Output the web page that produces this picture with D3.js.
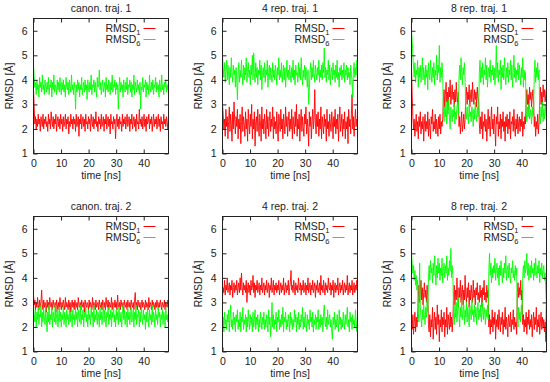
<!DOCTYPE html>
<html>
<head>
<meta charset="utf-8">
<script src="https://cdn.jsdelivr.net/npm/d3@7"></script>
<style>
body { margin: 0; background: #fff; }
svg text { font-family: "Liberation Sans", Arial, sans-serif; fill: #222; }
</style>
</head>
<body>
<svg id="chart" width="550" height="382"></svg>
<script>
// RMSD time series, 200 samples over 0..49 ns
var canon1_r = [3.6,2.9,2.2,2.5,2.0,2.4,2.1,2.6,2.2,2.4,1.9,2.5,2.3,2.1,2.6,2.0,2.4,2.2,2.5,2.1,
 2.3,1.9,2.6,2.2,2.4,2.0,2.7,2.3,2.1,2.5,2.0,2.4,2.2,2.6,1.9,2.3,2.5,2.1,2.4,2.0,
 2.6,2.2,2.4,1.9,2.5,2.1,2.3,2.6,2.0,2.4,2.2,2.5,1.8,2.3,2.1,2.6,2.2,2.4,2.0,2.5,
 2.2,2.4,1.9,2.6,2.1,2.3,2.5,1.7,2.4,2.2,2.6,2.0,2.3,2.5,2.1,2.4,1.9,2.6,2.2,2.3,
 2.0,2.5,2.2,2.4,1.9,2.6,2.3,2.1,2.5,2.0,2.4,2.2,2.7,2.1,2.3,1.9,2.5,2.2,2.4,2.0,
 2.6,2.1,2.3,2.5,1.9,2.4,2.2,2.6,2.0,2.3,2.5,2.1,2.4,1.8,2.6,2.2,2.3,2.0,2.5,2.2,
 2.4,1.6,2.3,2.6,2.1,2.4,2.0,2.5,2.2,2.3,1.9,2.6,2.1,2.4,2.2,2.5,2.0,2.3,2.6,2.1,
 2.3,2.5,1.9,2.4,2.2,2.6,2.0,2.3,2.5,2.1,2.4,1.9,2.6,2.2,2.3,2.0,2.8,2.2,2.4,2.1,
 2.5,2.0,2.3,2.6,2.1,2.4,1.9,2.5,2.2,2.3,2.6,2.0,2.4,2.2,2.5,1.9,2.3,2.6,2.1,2.4,
 2.2,2.5,2.0,2.3,2.6,2.1,2.4,1.9,2.5,2.2,2.3,2.0,2.6,2.2,2.4,2.1,2.5,2.3,2.0,2.4];
var canon1_g = [4.6,4.1,3.7,3.9,3.4,4.0,3.6,3.8,3.3,4.1,3.7,3.9,3.5,4.2,3.6,3.8,3.4,4.0,3.7,3.5,
 3.9,3.6,4.1,3.4,3.8,3.7,4.0,3.3,3.9,3.6,4.2,3.5,3.8,3.7,3.4,4.0,3.6,3.9,3.5,4.1,
 3.7,3.4,3.9,3.6,4.0,3.5,3.8,3.3,4.1,3.7,3.6,3.9,3.4,4.0,3.7,3.5,4.2,3.6,3.8,3.4,
 3.9,3.7,2.8,3.8,3.5,4.0,3.6,3.9,3.3,3.8,3.6,4.1,3.4,3.7,3.9,3.5,4.0,3.6,3.8,3.2,
 4.0,3.7,3.5,3.9,3.6,4.2,3.4,3.8,3.7,4.0,3.5,3.9,3.6,3.3,4.1,3.7,3.8,4.4,3.6,3.9,
 3.4,3.8,4.0,3.5,3.7,3.9,3.3,4.1,3.6,3.8,3.5,4.0,3.7,3.4,3.9,3.6,4.2,3.5,3.8,3.7,
 4.0,3.4,3.9,3.6,3.8,2.8,3.7,4.1,3.5,3.9,3.6,3.8,3.3,4.0,3.7,3.5,3.9,3.6,4.1,3.4,
 3.8,3.7,4.0,3.5,3.9,3.3,3.8,3.6,4.2,3.4,3.9,3.7,3.5,4.0,3.6,3.8,3.4,3.9,2.8,3.7,
 3.6,4.1,3.5,3.8,3.7,4.0,3.3,3.9,3.6,3.8,3.4,4.2,3.7,3.5,3.9,3.6,4.0,3.4,3.8,3.7,
 4.1,3.5,3.9,3.6,3.8,3.3,4.0,3.7,3.5,4.2,3.6,3.8,3.4,3.9,3.7,4.0,3.5,3.8,3.6,3.9];

var rep4a_r = [3.0,2.6,2.0,2.4,1.7,2.8,2.1,2.5,1.6,2.3,2.9,1.9,2.6,2.2,1.5,2.7,2.0,3.1,2.3,1.8,
 2.5,2.1,2.8,1.6,2.4,2.0,2.6,1.4,2.3,2.9,1.9,2.5,2.2,1.7,2.7,2.0,2.4,1.5,2.8,2.2,
 1.8,2.6,2.1,3.0,1.6,2.4,2.0,2.7,1.3,2.3,2.5,1.9,2.8,2.1,1.7,2.6,2.2,1.5,2.9,2.0,
 2.4,1.8,2.6,2.2,1.6,2.8,2.0,2.5,1.7,2.3,2.7,1.9,2.4,2.1,2.9,1.6,2.5,2.0,2.3,1.8,
 2.7,2.1,1.5,2.6,2.3,1.9,2.8,2.0,2.4,1.6,2.6,2.2,1.8,2.9,2.1,2.5,1.7,2.3,2.7,1.9,
 2.4,2.0,2.8,1.6,2.5,2.2,1.8,2.7,2.1,3.0,1.7,2.4,2.0,2.6,1.5,2.3,2.8,1.9,2.5,2.1,
 1.7,2.6,2.2,2.9,1.8,2.4,2.0,1.3,2.7,2.1,2.5,1.6,2.3,2.8,2.0,2.4,3.6,2.2,1.8,2.6,
 2.1,2.7,1.7,2.4,2.0,2.9,1.6,2.5,2.2,1.8,2.6,2.1,2.4,1.5,2.8,2.0,2.3,1.7,2.6,2.2,
 1.9,2.7,2.3,1.6,2.5,2.1,2.8,1.8,2.4,2.0,2.6,1.5,2.3,2.9,1.9,2.2,2.6,1.7,2.4,2.0,
 2.7,1.6,2.3,2.0,2.5,1.4,2.8,2.1,2.4,1.8,2.6,3.4,2.0,2.5,1.7,2.3,2.8,2.1,2.4,2.2];
var rep4a_g = [5.0,4.5,4.1,4.7,3.9,4.4,4.8,4.0,4.6,4.2,3.8,4.5,4.1,4.9,4.3,3.9,4.6,4.2,4.4,3.7,
 4.5,4.0,3.2,4.3,4.7,3.9,4.4,4.1,4.8,4.2,3.8,4.6,4.0,4.5,4.2,4.9,3.9,4.3,4.7,4.1,
 4.4,3.8,4.6,4.2,5.0,4.0,5.1,4.3,3.9,4.7,4.1,4.5,3.8,4.4,4.2,4.8,4.0,4.6,3.6,4.3,
 4.5,4.1,4.7,3.9,4.4,4.2,4.8,3.7,4.3,4.6,4.0,4.5,4.2,3.9,4.7,4.1,4.4,4.0,4.6,4.3,
 3.8,4.5,4.2,4.9,4.0,4.4,4.1,4.7,3.9,4.3,4.6,4.0,4.5,3.7,4.2,4.8,4.1,4.4,4.0,4.6,
 4.2,3.9,4.5,4.1,4.8,4.0,4.4,3.8,4.6,4.2,4.3,3.9,4.7,4.1,4.5,4.0,4.9,4.2,3.8,4.4,
 4.1,4.6,4.0,4.5,4.2,3.7,4.4,3.0,3.6,4.3,4.7,4.0,4.5,4.1,4.8,4.2,3.9,4.6,4.3,4.0,
 4.5,4.2,4.8,3.9,4.4,4.1,4.6,4.0,4.7,4.3,5.3,4.1,4.5,3.9,4.4,4.2,4.8,4.0,4.6,3.8,
 4.3,4.5,4.0,4.7,4.2,4.4,3.9,4.6,4.1,4.8,4.0,4.3,3.7,4.5,4.2,4.6,4.0,4.4,4.1,4.7,
 3.9,4.4,4.2,4.6,4.0,4.5,4.1,4.3,3.8,4.6,4.2,4.0,3.3,4.4,4.7,4.1,4.5,4.2,4.8,4.3];

var rep8a_r = [4.5,3.4,2.5,2.0,2.4,1.7,2.2,2.6,1.9,2.3,1.6,2.5,2.1,2.7,1.8,2.3,2.0,2.5,1.5,2.2,
 2.6,1.9,2.3,2.0,2.7,1.7,2.4,2.1,1.6,2.5,2.2,2.8,1.9,2.3,2.0,2.6,1.8,2.4,2.1,1.7,
 2.5,2.0,2.6,1.8,2.3,2.1,2.4,3.2,3.6,2.9,3.4,3.9,3.1,3.5,2.8,3.7,3.3,4.0,3.0,3.4,
 3.8,3.2,3.5,2.9,3.6,3.1,3.9,3.3,3.0,3.5,2.1,2.5,1.8,2.3,2.7,1.9,2.2,2.6,2.0,2.4,
 3.3,3.7,3.0,3.5,3.2,3.8,2.9,3.4,3.6,3.1,3.9,3.3,3.0,3.6,3.2,3.5,2.9,3.7,3.3,3.1,
 2.2,1.8,2.5,2.0,2.7,1.6,2.3,2.1,2.6,1.9,2.4,1.5,2.2,2.8,2.0,2.5,1.7,2.3,2.9,2.0,
 2.4,1.8,2.6,2.1,1.3,2.5,2.2,2.9,1.7,2.3,2.0,2.6,1.6,2.4,2.1,2.7,1.9,2.3,1.5,2.5,
 2.1,2.6,1.8,2.4,2.0,2.7,1.6,2.3,2.2,2.5,1.9,2.8,2.1,1.7,2.4,2.0,2.6,1.8,2.3,2.5,
 1.9,2.4,2.1,2.7,1.7,2.3,2.0,2.5,2.2,3.1,3.6,3.0,3.4,2.8,3.7,3.2,3.5,2.9,3.3,3.6,
 3.1,2.1,2.5,1.7,2.3,2.0,2.6,1.8,2.2,3.2,3.7,3.0,3.5,2.9,3.8,3.3,3.6,3.1,3.4,3.7];
var rep8a_g = [6.0,5.6,5.0,4.5,4.1,4.7,3.9,4.4,4.2,4.8,3.7,4.5,4.1,4.6,3.9,4.3,4.9,4.0,4.5,4.2,
 3.8,4.6,4.1,4.4,3.6,4.7,4.2,4.0,4.8,4.3,3.9,4.5,4.1,4.7,3.8,4.4,4.2,5.0,4.0,4.6,
 4.3,5.4,3.9,4.5,4.1,4.7,4.2,2.7,2.3,2.9,2.5,3.1,2.2,2.8,2.6,3.2,2.4,2.0,2.9,2.6,
 2.3,2.8,2.5,3.0,2.2,2.7,2.4,2.9,3.1,2.6,4.1,4.6,4.0,4.9,4.3,3.8,4.5,4.2,4.7,4.0,
 2.8,2.4,2.9,2.6,2.2,3.0,2.5,2.7,2.3,2.9,2.6,2.1,2.8,2.4,3.1,2.6,2.3,2.9,2.5,2.7,
 4.3,4.8,3.9,4.5,4.1,4.7,3.8,4.4,4.2,4.9,4.0,4.6,3.7,4.3,4.5,4.1,4.8,3.9,4.4,4.2,
 4.6,4.0,4.5,3.8,4.3,5.4,4.1,4.7,3.9,4.4,4.2,4.8,3.6,4.5,4.1,4.6,4.0,4.9,4.3,3.8,
 4.5,4.1,4.7,3.9,4.4,4.2,4.8,4.0,4.6,3.7,4.3,5.0,4.1,4.5,3.9,4.4,4.2,4.7,4.0,4.6,
 4.2,3.8,4.5,4.1,4.9,3.7,4.4,4.0,4.3,2.7,2.3,2.9,2.5,3.0,2.4,2.8,2.6,2.2,2.9,2.5,
 2.8,4.3,4.8,3.9,4.5,4.1,4.7,4.0,4.4,2.7,2.2,2.9,2.5,3.1,2.3,2.8,2.4,3.0,2.6,2.5];

var canon2_r = [3.3,2.9,3.1,2.7,3.0,2.8,3.2,2.9,2.7,3.1,2.8,3.0,3.5,2.9,2.7,3.1,2.8,3.0,2.9,2.6,
 3.1,2.8,3.0,2.7,3.2,2.9,2.8,3.0,2.7,3.1,2.9,2.8,3.0,2.6,3.1,2.9,2.7,3.0,2.8,3.2,
 2.9,2.7,3.0,2.8,3.1,2.9,2.7,3.2,2.8,3.0,2.9,2.7,3.1,2.8,3.0,2.6,2.9,3.1,2.8,3.0,
 2.7,3.1,2.9,2.8,3.0,2.7,3.2,2.9,2.8,3.0,2.7,3.1,2.9,2.8,3.0,2.6,3.1,2.9,2.8,3.0,
 2.9,2.7,3.1,2.8,3.0,2.9,2.7,3.2,2.8,3.0,2.9,2.7,3.1,2.8,2.9,3.0,2.7,3.1,2.9,2.8,
 3.0,2.7,3.1,2.9,2.8,3.0,2.7,3.2,2.9,2.8,3.1,2.7,3.0,2.9,2.8,3.2,2.7,3.0,2.9,2.8,
 3.1,2.8,3.0,2.7,3.3,2.9,2.8,3.0,2.7,3.1,2.9,2.8,3.0,2.6,3.1,2.9,2.8,3.0,2.7,3.1,
 2.9,2.8,3.0,2.7,3.1,2.9,2.8,3.0,2.7,3.1,3.4,2.8,3.0,2.7,3.1,2.9,2.8,3.0,2.7,2.9,
 3.1,2.8,3.0,2.9,2.7,3.1,2.8,3.0,2.9,2.7,3.2,2.8,3.0,2.9,2.7,3.1,2.8,3.0,2.9,2.7,
 3.0,2.8,3.1,2.9,2.7,3.0,2.8,3.1,2.9,2.7,3.0,2.9,2.8,3.1,2.7,3.0,2.9,2.8,3.1,3.0];
var canon2_g = [2.9,2.5,2.2,2.7,2.0,2.6,2.3,2.8,2.1,2.5,2.4,2.9,2.0,2.6,2.2,2.7,2.4,2.1,2.8,2.3,
 1.8,2.6,2.2,2.9,2.1,2.5,2.3,2.8,2.0,2.6,2.4,2.2,2.9,2.1,2.5,2.7,2.0,2.4,2.8,2.2,
 2.6,2.0,2.5,2.3,2.9,2.1,2.6,2.4,2.0,2.7,2.3,2.5,2.1,2.8,2.2,2.6,2.4,2.0,2.7,2.3,
 2.5,2.1,2.8,2.3,2.6,2.0,2.7,2.4,2.2,2.9,2.1,2.5,2.3,2.7,2.0,2.6,2.4,2.8,2.2,2.5,
 2.0,2.7,2.3,2.5,2.1,2.8,2.4,2.6,2.0,2.9,2.2,2.5,2.3,2.7,2.1,2.6,2.4,2.0,2.8,2.3,
 2.6,2.1,2.5,2.9,2.2,2.7,2.3,2.0,2.6,2.4,2.8,2.1,2.5,2.3,2.7,2.0,2.6,2.4,2.9,2.2,
 2.5,2.0,2.7,2.3,2.6,2.1,2.8,2.4,2.2,2.6,2.0,2.5,2.9,2.3,2.7,2.1,2.4,2.6,2.0,2.8,
 2.3,2.6,2.1,2.5,2.8,2.2,2.4,2.7,2.0,2.6,2.3,2.9,2.1,2.5,2.4,2.7,2.0,2.6,2.2,2.8,
 2.4,2.1,2.7,2.3,2.5,1.9,2.6,2.2,2.8,2.4,2.0,2.7,2.3,2.5,2.1,2.9,2.2,2.6,2.4,2.0,
 2.7,2.3,2.5,2.1,2.8,2.4,2.6,2.0,2.5,2.3,2.7,2.1,2.6,2.4,2.0,2.8,2.3,2.5,2.2,2.6];

var rep4b_r = [3.2,3.6,3.4,3.9,3.3,3.7,3.5,4.0,3.4,3.6,3.8,3.3,3.7,3.5,3.9,3.2,3.6,3.8,3.4,3.7,
 3.5,3.9,3.3,3.6,3.8,3.4,4.0,3.5,4.2,3.6,3.3,3.8,3.5,3.7,3.4,3.9,3.0,3.6,3.8,3.4,
 3.7,3.3,3.9,3.5,3.6,4.1,3.4,3.8,3.2,3.7,3.5,3.9,3.4,3.6,3.8,3.3,3.7,3.5,4.0,3.4,
 3.6,3.8,3.3,3.7,3.5,3.9,3.4,3.6,3.8,3.2,3.7,3.5,4.0,3.4,3.6,3.9,3.3,3.7,3.5,3.8,
 3.4,3.7,3.5,3.9,3.3,3.6,3.8,3.4,3.7,3.5,4.0,3.3,3.6,3.8,3.4,3.7,3.5,3.9,3.3,3.6,
 3.8,4.3,3.5,3.7,3.4,3.9,3.6,3.3,3.8,3.5,3.7,3.4,4.0,3.6,3.5,3.8,3.3,3.7,3.5,3.9,
 3.4,3.6,3.8,3.3,3.7,3.5,4.0,3.4,3.6,3.8,3.3,3.7,3.5,3.9,3.4,3.6,3.8,3.2,3.7,3.5,
 3.9,3.4,3.6,3.8,3.3,4.1,3.5,3.7,3.4,3.9,3.6,3.3,3.8,3.5,3.7,3.4,4.0,3.6,3.5,3.8,
 3.3,3.7,3.5,3.9,3.2,3.6,3.8,3.4,3.7,3.5,4.0,3.3,3.6,3.8,3.4,3.7,3.5,3.9,3.3,3.6,
 3.8,3.4,3.7,3.5,4.1,3.3,3.6,3.8,3.4,3.7,3.5,3.9,3.3,3.6,3.8,3.4,3.7,3.5,3.9,3.6];
var rep4b_g = [2.0,2.4,1.8,2.6,2.1,2.3,1.9,2.5,2.2,2.7,1.8,2.4,2.9,2.0,2.3,1.9,2.6,2.1,2.4,1.8,
 2.5,2.2,2.7,1.9,2.3,2.0,2.6,1.8,2.4,2.2,2.8,1.9,2.3,2.1,2.5,1.8,2.4,2.0,2.7,2.2,
 1.9,2.5,2.1,2.4,1.8,2.6,2.0,2.3,2.7,1.9,2.4,2.1,2.5,1.8,2.3,2.0,2.6,2.2,1.9,2.4,
 2.1,2.6,1.9,2.3,2.0,2.5,2.2,1.8,2.7,2.1,2.4,1.6,2.2,3.0,2.0,2.5,1.9,2.3,2.1,2.6,
 1.8,2.4,2.2,2.7,1.9,2.3,2.0,2.5,2.1,2.8,1.8,2.4,2.2,2.6,1.9,2.3,2.0,2.5,2.2,1.8,
 2.6,2.1,2.4,1.9,2.3,2.0,2.7,2.2,2.5,1.8,2.4,2.1,2.6,1.9,2.3,2.0,2.5,2.2,2.8,1.9,
 2.4,2.0,2.6,2.2,1.8,2.5,2.1,2.3,1.9,2.7,2.2,2.4,2.0,2.6,1.8,2.3,2.1,2.5,1.9,2.4,
 2.2,2.7,1.9,2.3,2.0,2.5,2.1,2.4,1.8,2.6,2.9,2.2,2.0,2.4,1.9,2.7,2.1,2.3,2.5,2.0,
 2.3,1.8,1.5,2.4,2.1,2.6,1.9,2.3,2.0,2.5,2.2,1.8,2.7,2.1,2.4,1.9,2.3,2.0,2.6,2.2,
 1.9,2.5,2.1,2.4,2.8,2.0,2.3,1.8,2.6,2.2,2.4,1.9,2.5,2.1,2.3,2.0,2.7,2.2,1.8,2.4];

var rep8b_r = [2.3,1.9,2.5,1.7,2.2,2.6,1.8,2.4,2.0,2.3,3.2,3.7,3.0,3.5,3.9,3.1,3.6,2.9,3.4,3.8,
 3.2,3.5,3.0,3.7,3.3,2.1,1.8,2.5,1.6,2.3,2.0,2.8,1.5,2.2,2.6,1.9,2.4,1.7,2.9,2.1,
 2.5,1.4,2.3,2.0,2.7,1.8,2.4,2.1,2.6,1.6,2.3,2.0,2.8,1.7,2.5,2.2,1.9,2.6,2.0,2.4,
 1.8,2.3,3.2,3.7,2.9,3.5,3.1,4.0,3.3,2.8,3.6,3.2,3.9,3.0,3.4,3.7,2.9,3.5,3.1,4.1,
 3.3,3.0,3.6,3.2,3.8,2.8,3.5,3.1,3.7,3.3,3.0,3.9,3.2,3.5,2.9,3.6,3.3,3.8,3.1,3.4,
 3.0,3.7,3.2,3.5,2.8,3.6,3.3,3.9,3.1,3.4,3.0,3.7,3.2,3.5,2.0,2.5,1.7,2.3,2.0,2.7,
 1.8,2.4,2.1,2.6,1.5,2.3,2.0,2.5,1.9,2.7,2.2,1.8,2.4,2.1,2.6,1.7,2.3,2.0,2.8,1.9,
 2.4,2.1,1.6,2.5,2.2,2.0,2.6,1.8,2.3,2.1,2.7,1.9,2.4,2.0,2.2,1.7,3.4,3.8,3.2,3.6,
 3.3,3.9,3.1,3.5,2.1,2.5,1.8,2.3,2.0,2.6,1.7,2.4,2.1,2.7,1.9,2.3,2.0,2.5,1.6,2.2,
 2.6,1.9,2.4,2.1,2.8,1.8,2.3,2.0,2.5,1.7,2.2,2.6,1.9,2.4,2.0,2.3,1.8,2.2,1.4,3.4];
var rep8b_g = [5.0,4.6,4.2,4.5,3.9,4.3,3.7,4.1,3.5,3.9,2.6,2.2,4.6,2.8,2.4,2.0,2.7,2.3,2.9,2.5,
 2.1,2.8,2.4,3.1,2.6,4.0,4.5,3.9,4.7,4.2,4.4,3.8,4.6,4.1,4.9,4.3,3.7,4.5,4.0,4.8,
 4.2,4.6,3.9,4.4,4.1,4.8,3.8,4.3,4.6,4.0,4.5,4.2,4.9,3.9,4.4,4.1,4.7,4.3,5.2,4.0,
 4.5,4.1,2.6,2.1,2.9,2.4,3.0,2.2,2.7,3.2,2.5,2.0,2.8,2.4,3.1,2.3,2.6,2.9,2.1,2.7,
 2.4,3.0,2.2,2.8,2.5,2.0,2.9,2.6,2.3,3.1,2.5,2.7,2.2,2.9,2.4,2.8,2.1,2.6,3.0,2.3,
 2.7,2.4,2.9,2.2,2.6,3.0,2.3,2.8,2.5,2.1,2.7,2.4,2.9,2.3,4.3,5.0,4.1,4.6,3.8,4.4,
 4.0,4.5,4.2,4.8,3.9,4.3,4.6,4.0,4.4,3.7,4.5,4.1,4.7,4.2,3.8,4.4,4.0,4.6,4.2,4.9,
 3.9,4.3,4.5,4.0,4.6,4.1,3.8,4.4,4.2,4.7,4.0,4.3,3.9,4.5,4.1,4.4,2.4,2.0,2.8,2.3,
 2.6,2.2,2.9,2.5,4.1,4.5,4.0,4.7,4.2,4.4,5.0,4.1,4.6,3.9,4.3,4.5,4.0,4.7,4.2,4.4,
 3.9,4.6,4.1,4.8,4.3,4.0,4.5,4.2,4.7,3.8,4.4,4.1,4.6,4.0,4.3,4.5,3.9,4.2,3.5,3.0];

var titles = ['canon. traj. 1', '4 rep. traj. 1', '8 rep. traj. 1',
              'canon. traj. 2', '4 rep. traj. 2', '8 rep. traj. 2'];
var seriesR = [canon1_r, rep4a_r, rep8a_r, canon2_r, rep4b_r, rep8b_r];
var seriesG = [canon1_g, rep4a_g, rep8a_g, canon2_g, rep4b_g, rep8b_g];
var xTicks = [0, 10, 20, 30, 40];
var yTicks = [1, 2, 3, 4, 5, 6];
var tMax = 49;

var svg = d3.select('#chart');

var colLeft = [33.5, 222.5, 411.5];
var rowTop = [18.5, 216.5];
var plotW = 135;
var plotH = 135;

var x = d3.scaleLinear().domain([0, tMax]).range([0, plotW]);
var y = d3.scaleLinear().domain([1, 6.5]).range([plotH, 0]);

function lineFor(arr) {
    var step = tMax / (arr.length - 1);
    return d3.line()
        .x(function(d, i){ return x(i * step); })
        .y(function(d){ return y(d); })(arr);
}

titles.forEach(function(title, p){
    var left = colLeft[p % 3];
    var top = rowTop[Math.floor(p / 3)];

    var g = svg.append('g')
        .attr('transform', 'translate(' + left + ',' + top + ')');

    g.append('clipPath')
        .attr('id', 'clip' + p)
        .append('rect')
        .attr('width', plotW)
        .attr('height', plotH);

    //data lines, RMSD1 first then RMSD6 on top
    var lines = g.append('g').attr('clip-path', 'url(#clip' + p + ')');
    lines.append('path')
        .attr('d', lineFor(seriesR[p]))
        .attr('fill', 'none')
        .attr('stroke', '#ff0000')
        .attr('stroke-width', 0.9);
    lines.append('path')
        .attr('d', lineFor(seriesG[p]))
        .attr('fill', 'none')
        .attr('stroke', '#00ff00')
        .attr('stroke-width', 0.9);

    //axes with mirrored inner ticks
    var xb = g.append('g').attr('transform', 'translate(0,' + plotH + ')')
        .call(d3.axisBottom(x).tickValues(xTicks).tickSize(-4).tickPadding(6).tickFormat(d3.format('d')));
    var xt = g.append('g')
        .call(d3.axisTop(x).tickValues(xTicks).tickSize(-4).tickFormat(''));
    var yl = g.append('g')
        .call(d3.axisLeft(y).tickValues(yTicks).tickSize(-4).tickPadding(6).tickFormat(d3.format('d')));
    var yr = g.append('g').attr('transform', 'translate(' + plotW + ',0)')
        .call(d3.axisRight(y).tickValues(yTicks).tickSize(-4).tickFormat(''));

    [xb, xt, yl, yr].forEach(function(a){
        a.select('.domain').remove();
        a.selectAll('line').attr('stroke', '#222');
        a.selectAll('text').attr('font-size', 10.5).attr('fill', '#222')
            .style('font-family', '"Liberation Sans", Arial, sans-serif');
    });

    g.append('rect')
        .attr('width', plotW)
        .attr('height', plotH)
        .attr('fill', 'none')
        .attr('stroke', '#222')
        .attr('stroke-width', 1);

    g.append('text')
        .attr('x', plotW / 2)
        .attr('y', -7)
        .attr('text-anchor', 'middle')
        .attr('font-size', 10.5)
        .text(title);

    g.append('text')
        .attr('x', plotW / 2)
        .attr('y', plotH + 25)
        .attr('text-anchor', 'middle')
        .attr('font-size', 10.5)
        .text('time [ns]');

    g.append('text')
        .attr('transform', 'translate(-21,' + (plotH / 2) + ') rotate(-90)')
        .attr('text-anchor', 'middle')
        .attr('font-size', 10.5)
        .text('RMSD [Å]');

    //legend
    var leg = [['1', '#ff0000'], ['6', '#00ff00']];
    leg.forEach(function(l, k){
        var ly = 10 + k * 11;
        var t = g.append('text')
            .attr('x', plotW - 28)
            .attr('y', ly + 3)
            .attr('text-anchor', 'end')
            .attr('font-size', 10.5);
        t.append('tspan').text('RMSD');
        t.append('tspan').attr('dy', 3).attr('font-size', 7.5).text(l[0]);
        g.append('line')
            .attr('x1', plotW - 25)
            .attr('x2', plotW - 13)
            .attr('y1', ly)
            .attr('y2', ly)
            .attr('stroke', l[1])
            .attr('stroke-width', 1);
    });
});
</script>
</body>
</html>
